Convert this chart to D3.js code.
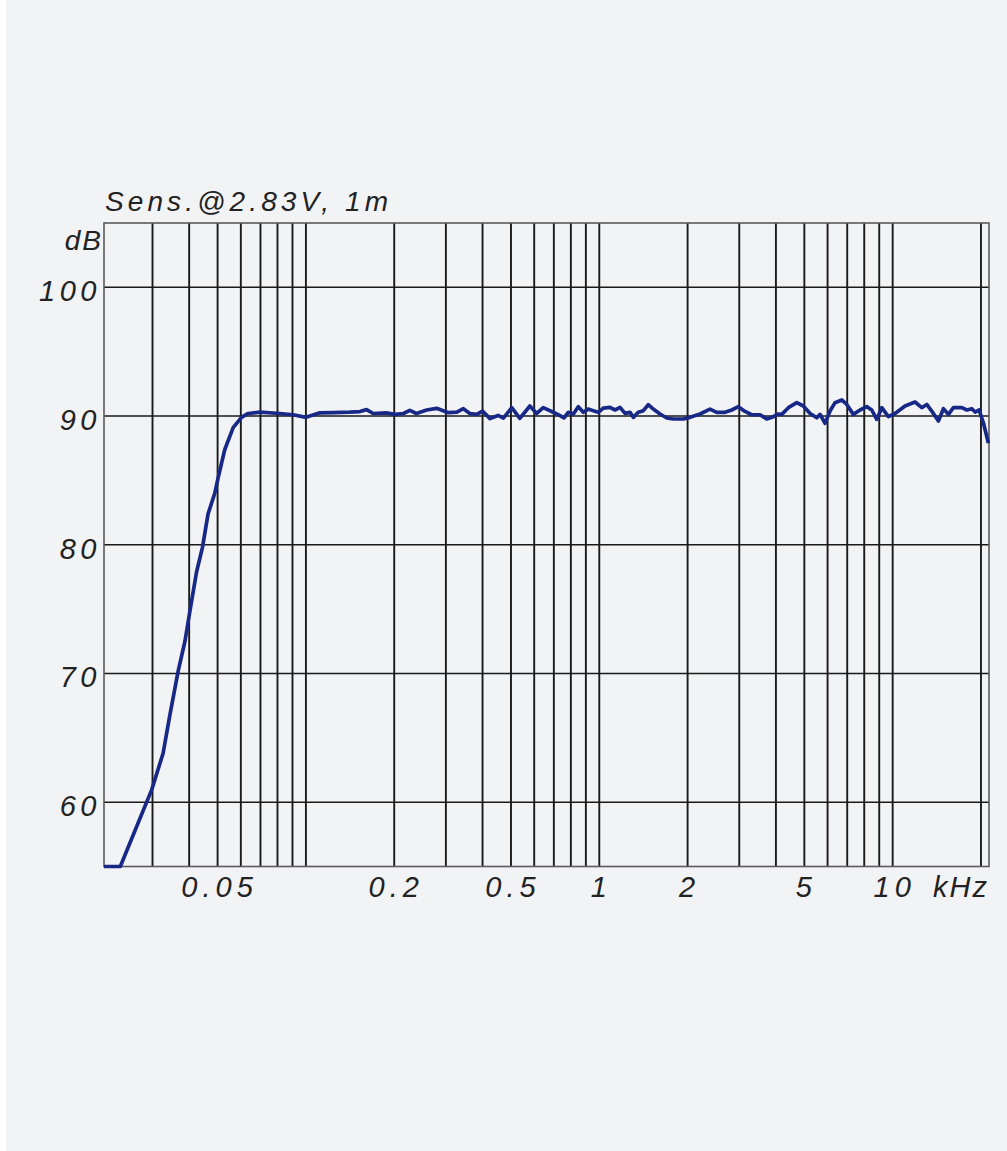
<!DOCTYPE html>
<html>
<head>
<meta charset="utf-8">
<script src="https://cdn.jsdelivr.net/npm/d3@7"></script>
<style>
  html, body { margin: 0; padding: 0; background: #ffffff; }
  svg { display: block; }
  text { font-family: "Liberation Sans", Arial, sans-serif; font-style: italic; fill: #222; }
</style>
</head>
<body>
<svg id="chart" width="1007" height="1151"></svg>
<script>
// ---- data ----
const freqHz = [
  20.5, 23.3, 29.8, 32.6, 34.4, 36.7, 38.7, 40.2, 42.4, 44.4,
  46.4, 48.9, 50.2, 52.9, 56.5, 60.3, 63.6, 69.7, 81.5, 90.5,
  100, 111.6, 123.9, 141.3, 152.8, 161, 169.6, 188, 201, 215,
  226, 238, 258, 279, 306, 327, 344, 362, 382, 400,
  424, 452, 471, 503, 536, 580, 612, 644, 697, 735,
  758, 784, 816, 848, 882, 917, 954, 992, 1032, 1088,
  1131, 1177, 1224, 1273, 1306, 1358, 1413, 1469, 1528, 1611,
  1698, 1788, 1934, 2039, 2205, 2385, 2514, 2683, 2828, 2978,
  3139, 3308, 3531, 3723, 3921, 4077, 4188, 4411, 4710, 4961,
  5230, 5512, 5656, 5882, 6117, 6362, 6706, 6974, 7345, 7742,
  8159, 8487, 8827, 9181, 9669, 10190, 11020, 11920, 12570, 13070,
  13590, 14320, 14890, 15490, 16110, 17210, 17890, 18610, 19100, 19710,
  20380, 21200
];
const splDb = [
  55, 55, 60.95, 63.8, 66.8, 70.2, 72.5, 74.8, 77.9, 79.8,
  82.4, 84.0, 85.2, 87.4, 89.1, 89.9, 90.2, 90.3, 90.2, 90.1,
  89.9, 90.25, 90.27, 90.3, 90.35, 90.5, 90.2, 90.25, 90.13, 90.2,
  90.44, 90.2, 90.47, 90.6, 90.26, 90.3, 90.57, 90.2, 90.13, 90.39,
  89.8, 90.05, 89.84, 90.65, 89.82, 90.78, 90.2, 90.65, 90.3, 90.03,
  89.85, 90.29, 90.16, 90.73, 90.29, 90.54, 90.42, 90.29, 90.62, 90.67,
  90.47, 90.67, 90.21, 90.29, 89.9, 90.29, 90.42, 90.88, 90.54, 90.16,
  89.85, 89.77, 89.77, 89.9, 90.16, 90.54, 90.29, 90.29, 90.47, 90.73,
  90.36, 90.1, 90.1, 89.77, 89.95, 90.16, 90.13, 90.65, 91.04, 90.78,
  90.2, 89.87, 90.13, 89.43, 90.39, 91.04, 91.25, 90.9, 90.13, 90.47,
  90.73, 90.47, 89.74, 90.65, 89.95, 90.2, 90.78, 91.09, 90.65, 90.9,
  90.39, 89.61, 90.57, 90.13, 90.65, 90.65, 90.47, 90.57, 90.31, 90.47,
  89.48, 87.9
];
const gridFreqs = [30, 40, 50, 60, 70, 80, 90, 100, 200, 300, 400, 500, 600, 700, 800, 900,
                   1000, 2000, 3000, 4000, 5000, 6000, 7000, 8000, 9000, 10000, 20000];
const xTickValues = [50, 200, 500, 1000, 2000, 5000, 10000];
const xTickLabels = ["0.05", "0.2", "0.5", "1", "2", "5", "10"];
const yTickValues = [60, 70, 80, 90, 100];
const xUnit = "kHz";
const yUnit = "dB";
const title = "Sens.@2.83V, 1m";

// ---- layout ----
const svg = d3.select("#chart");
const plot = { left: 104, right: 989, top: 223, bottom: 866.5 };

svg.append("rect").attr("x", 6).attr("y", 0).attr("width", 1001).attr("height", 1151)
  .attr("fill", "#f2f3f5");

const x = d3.scaleLog().domain([20.5, 21300]).range([plot.left, plot.right]);
const y = d3.scaleLinear().domain([55, 105]).range([plot.bottom, plot.top]);

// vertical grid
svg.append("g").selectAll("line").data(gridFreqs).join("line")
  .attr("x1", d => x(d)).attr("x2", d => x(d))
  .attr("y1", plot.top).attr("y2", plot.bottom)
  .attr("stroke", "#1a1a1a").attr("stroke-width", 1.9);

// horizontal grid
svg.append("g").selectAll("line").data(yTickValues).join("line")
  .attr("x1", plot.left).attr("x2", plot.right)
  .attr("y1", d => y(d)).attr("y2", d => y(d))
  .attr("stroke", "#1a1a1a").attr("stroke-width", 1.5);

// frame
svg.append("rect")
  .attr("x", plot.left).attr("y", plot.top)
  .attr("width", plot.right - plot.left).attr("height", plot.bottom - plot.top)
  .attr("fill", "none").attr("stroke", "#5a5a5a").attr("stroke-width", 1.6);

// curve
const pts = freqHz.map((f, i) => [f, splDb[i]]);
const line = d3.line().x(d => x(d[0])).y(d => y(d[1])).curve(d3.curveLinear);
svg.append("path").datum(pts)
  .attr("d", line)
  .attr("fill", "none")
  .attr("stroke", "#182887")
  .attr("stroke-width", 3.7)
  .attr("stroke-linejoin", "round")
  .attr("stroke-linecap", "butt");

// y tick labels
svg.append("g").selectAll("text").data(yTickValues).join("text")
  .attr("x", 101).attr("y", d => y(d) + 14)
  .attr("text-anchor", "end")
  .attr("font-size", 29)
  .attr("letter-spacing", 4.5)
  .text(d => d);

svg.append("text").attr("x", 103).attr("y", 250)
  .attr("text-anchor", "end").attr("font-size", 28).attr("letter-spacing", 2)
  .text(yUnit);

// x tick labels
svg.append("g").selectAll("text").data(xTickValues).join("text")
  .attr("x", d => x(d) + 2).attr("y", 897)
  .attr("text-anchor", "middle")
  .attr("font-size", 29)
  .attr("letter-spacing", 5)
  .text((d, i) => xTickLabels[i]);

svg.append("text").attr("x", 989).attr("y", 897)
  .attr("text-anchor", "end").attr("font-size", 29).attr("letter-spacing", 2)
  .text(xUnit);

// title
svg.append("text").attr("x", 105).attr("y", 211)
  .attr("font-size", 28).attr("letter-spacing", 4.1)
  .text(title);
</script>
</body>
</html>
